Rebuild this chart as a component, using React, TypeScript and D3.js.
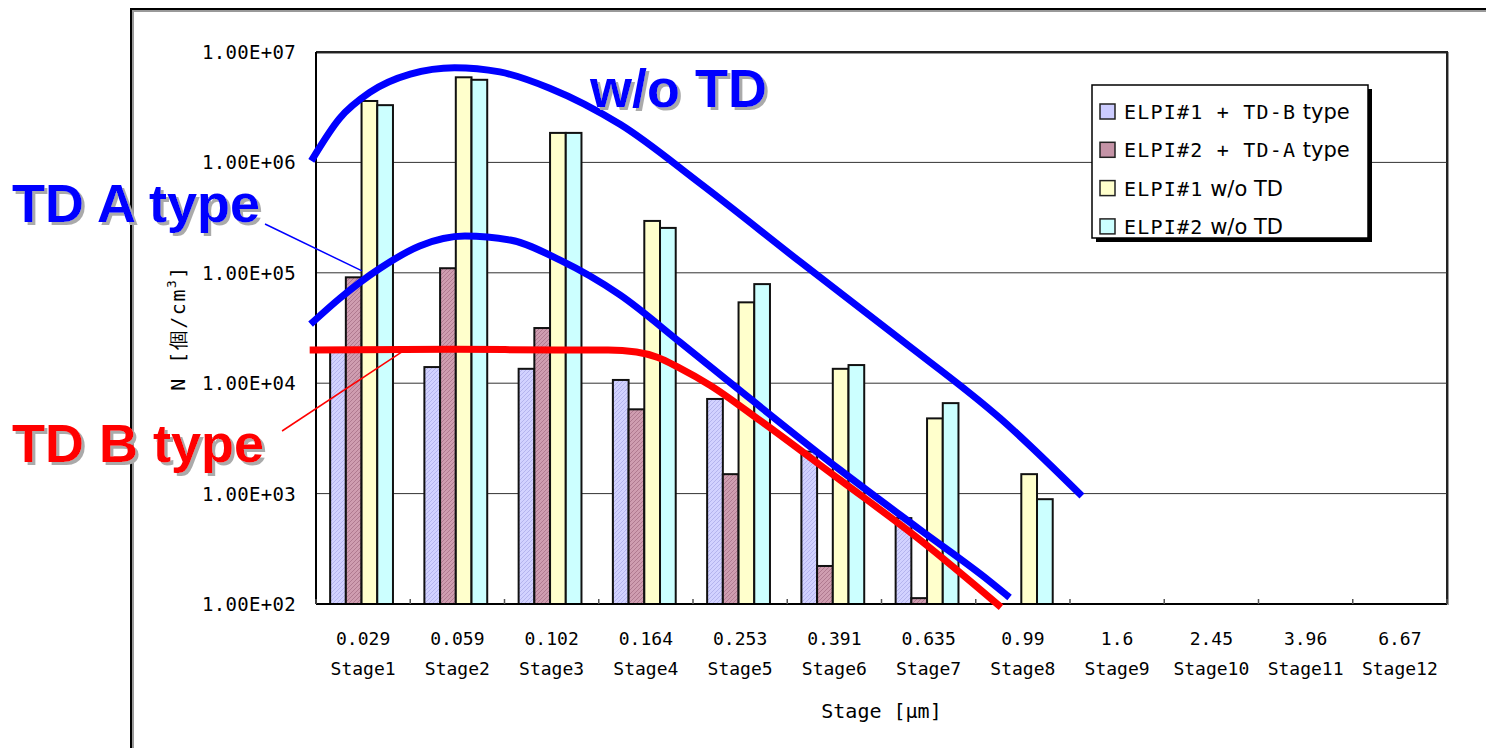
import * as d3 from 'd3';

const W = 1486, H = 748;
const L = 316, R = 1447, T = 52, B = 604;

const sizes = ['0.029', '0.059', '0.102', '0.164', '0.253', '0.391', '0.635', '0.99', '1.6', '2.45', '3.96', '6.67'];
const stages = ['Stage1', 'Stage2', 'Stage3', 'Stage4', 'Stage5', 'Stage6', 'Stage7', 'Stage8', 'Stage9', 'Stage10', 'Stage11', 'Stage12'];
const seriesNames = ['ELPI#1 + TD-B type', 'ELPI#2 + TD-A type', 'ELPI#1 w/o TD', 'ELPI#2 w/o TD'];

const elpi1TdB = [20000, 14000, 13500, 10700, 7200, 2400, 600, null, null, null, null, null];
const elpi2TdA = [91000, 110000, 31600, 5800, 1500, 221, 113, null, null, null, null, null];
const elpi1NoTd = [3600000, 5900000, 1850000, 295000, 54000, 13500, 4800, 1500, null, null, null, null];
const elpi2NoTd = [3300000, 5600000, 1850000, 255000, 79000, 14600, 6600, 890, null, null, null, null];

const yTicks = [1e7, 1e6, 1e5, 1e4, 1e3, 1e2];
const yTickLabels = ['1.00E+07', '1.00E+06', '1.00E+05', '1.00E+04', '1.00E+03', '1.00E+02'];

// hand-drawn fit curves: [stage position (0..12), N]
const curveNoTd: [number, number][] = [
  [-0.03, 1.1e6], [0.25, 2.5e6], [0.57, 4.3e6], [1.0, 6.3e6], [1.47, 7.2e6], [1.95, 6.6e6],
  [2.48, 4.7e6], [3.23, 2.2e6], [4.07, 6.5e5], [5.14, 1.25e5], [6.2, 2.5e4], [7.26, 4.8e3], [8.1, 1.0e3],
];
const curveTdA: [number, number][] = [
  [-0.03, 3.6e4], [0.255, 5.9e4], [0.68, 1.1e5], [1.1, 1.75e5], [1.58, 2.15e5], [2.06, 1.98e5],
  [2.59, 1.3e5], [3.225, 6.3e4], [3.86, 2.36e4], [4.36, 1.07e4], [5.56, 1.64e3], [6.41, 470], [7.15, 160], [7.33, 120],
];
const curveTdB: [number, number][] = [
  [-0.03, 2.0e4], [1.42, 2.03e4], [2.59, 2.0e4], [3.1, 2.0e4], [3.4, 1.92e4], [3.62, 1.72e4], [3.86, 1.37e4],
  [4.18, 9.6e3], [4.71, 4.6e3], [5.56, 1.33e3], [6.41, 380], [7.24, 98],
];

const fills = ['url(#hatchBlue)', 'url(#hatchMauve)', '#ffffcc', '#ccffff'];
const swatch = ['#ccccff', '#c493a6', '#ffffcc', '#ccffff'];

export default function App() {
  const x = d3.scaleBand().domain(stages).range([L, R]);
  const xs = d3.scaleBand().domain(seriesNames).range([0, x.bandwidth()]).paddingOuter(1).align(0.45);
  const xu = d3.scaleLinear().domain([0, 12]).range([L, R]);
  const y = d3.scaleLog().domain([1e2, 1e7]).range([B, T]);

  const all = [elpi1TdB, elpi2TdA, elpi1NoTd, elpi2NoTd];
  const line = d3.line<[number, number]>().x((d) => xu(d[0])).y((d) => y(d[1])).curve(d3.curveMonotoneX);

  const mono = '"DejaVu Sans Mono", monospace';
  const sans = '"DejaVu Sans", sans-serif';
  const bold = '"Liberation Sans", Arial, sans-serif';

  const annot = (txt: string, tx: number, ty: number, color: string) => (
    <text x={tx} y={ty} fill={color} fontFamily={bold} fontWeight="bold" fontSize={54} filter="url(#shadow)">{txt}</text>
  );

  return (
    <svg width={W} height={H} style={{ position: 'absolute', left: 0, top: 0, background: '#fff' }}>
      <defs>
        <pattern id="hatchBlue" width="4" height="4" patternUnits="userSpaceOnUse">
          <rect width="4" height="4" fill="#d2d2ff" />
          <path d="M0,4 L4,0" stroke="#b4b4ee" strokeWidth="1" />
        </pattern>
        <pattern id="hatchMauve" width="4" height="4" patternUnits="userSpaceOnUse">
          <rect width="4" height="4" fill="#cf9db0" />
          <path d="M0,4 L4,0" stroke="#b07a90" strokeWidth="1" />
        </pattern>
        <filter id="shadow" x="-5%" y="-10%" width="115%" height="130%">
          <feDropShadow dx="3" dy="3" stdDeviation="0" floodColor="#aaaaaa" floodOpacity="1" />
        </filter>
      </defs>

      {/* outer frame */}
      <path d={`M${132},${H} V${10} H${W}`} fill="none" stroke="#999" strokeWidth={2} transform="translate(1,1)" />
      <path d={`M${131},${H} V${9} H${W}`} fill="none" stroke="#000" strokeWidth={2} />

      {/* plot border and grid */}
      <path d={`M${L},${T} H${R} V${B}`} fill="none" stroke="#999" strokeWidth={2} transform="translate(1,1)" />
      <path d={`M${L},${T} H${R} V${B}`} fill="none" stroke="#222" strokeWidth={2} />
      {yTicks.slice(1, -1).map((t) => (
        <line key={t} x1={L} x2={R} y1={y(t)} y2={y(t)} stroke="#333" strokeWidth={1} />
      ))}

      {/* bars */}
      {all.map((vals, si) =>
        vals.map((v, i) =>
          v == null ? null : (
            <rect
              key={`${si}-${i}`}
              x={(x(stages[i]) ?? 0) + (xs(seriesNames[si]) ?? 0)}
              y={y(v)}
              width={xs.bandwidth()}
              height={B - y(v)}
              fill={fills[si]}
              stroke="#111"
              strokeWidth={2}
            />
          )
        )
      )}

      {/* axes */}
      <line x1={L} x2={L} y1={T} y2={B} stroke="#000" strokeWidth={2} />
      <line x1={L} x2={R} y1={B} y2={B} stroke="#000" strokeWidth={2} />
      {d3.range(13).map((k) => (
        <line key={k} x1={xu(k)} x2={xu(k)} y1={B} y2={B - 5} stroke="#555" strokeWidth={1.5} />
      ))}

      {yTicks.map((t, i) => (
        <text key={t} x={296} y={y(t) + 7} textAnchor="end" fontFamily={mono} fontSize={19} letterSpacing={0.3} fill="#000">
          {yTickLabels[i]}
        </text>
      ))}
      {stages.map((s, i) => {
        const cx = (x(s) ?? 0) + x.bandwidth() / 2;
        return (
          <g key={s} fontFamily={mono} fontSize={18} textAnchor="middle" fill="#000">
            <text x={cx} y={645}>{sizes[i]}</text>
            <text x={cx} y={675}>{s}</text>
          </g>
        );
      })}
      <text x={(L + R) / 2} y={718} textAnchor="middle" fontFamily={mono} fontSize={20}>Stage [μm]</text>
      <text transform={`translate(185,${(T + B) / 2}) rotate(-90)`} textAnchor="middle" fontFamily={mono} fontSize={20} letterSpacing={1.5}>
        N [個/cm<tspan dy={-9} fontSize={13}>3</tspan><tspan dy={9}>]</tspan>
      </text>

      {/* curves */}
      <path d={line(curveNoTd) ?? ''} fill="none" stroke="#0000ff" strokeWidth={7} strokeLinecap="square" />
      <path d={line(curveTdA) ?? ''} fill="none" stroke="#0000ff" strokeWidth={7} strokeLinecap="square" />
      <path d={line(curveTdB) ?? ''} fill="none" stroke="#ff0000" strokeWidth={7} strokeLinecap="square" />

      {/* leader lines */}
      <line x1={xu(-0.541)} y1={y(2.77e5)} x2={xu(0.488)} y2={y(1.04e5)} stroke="#0000ff" strokeWidth={1.5} />
      <line x1={xu(-0.36)} y1={y(3690)} x2={xu(0.944)} y2={y(2.0e4)} stroke="#ff0000" strokeWidth={1.5} />

      {annot('w/o TD', 590, 107, '#0000ff')}
      {annot('TD A type', 12, 222, '#0000ff')}
      {annot('TD B type', 12, 462, '#ff0000')}

      {/* legend */}
      <g>
        <rect x={1096} y={89} width={276} height={153} fill="#000" />
        <rect x={1092} y={85} width={276} height={153} fill="#fff" stroke="#000" strokeWidth={1.5} />
        {seriesNames.map((n, i) => {
          const cy = 111 + i * 38.3;
          const splitAt = n.indexOf(' type') >= 0 ? n.indexOf(' type') : n.indexOf(' w/o');
          const head = n.slice(0, splitAt);
          const tail = n.slice(splitAt);
          return (
            <g key={n}>
              <rect x={1100} y={cy - 7} width={15} height={15} fill={swatch[i]} stroke="#222" strokeWidth={1.5} />
              <text x={1124} y={cy + 8} fontSize={20} fill="#000">
                <tspan fontFamily={mono} letterSpacing={1.2}>{head}</tspan>
                <tspan fontFamily={sans} fontSize={21}>{tail}</tspan>
              </text>
            </g>
          );
        })}
      </g>
    </svg>
  );
}
